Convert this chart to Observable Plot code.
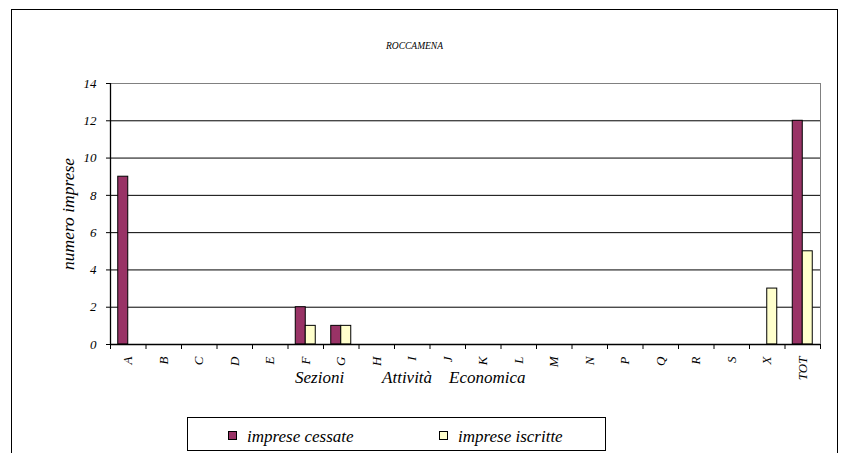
<!DOCTYPE html>
<html><head><meta charset="utf-8">
<script src="https://cdn.jsdelivr.net/npm/d3@7"></script>
<script src="https://cdn.jsdelivr.net/npm/@observablehq/plot@0.6"></script>
<style>
body{margin:0;background:#fff;font-family:"Liberation Serif","DejaVu Serif",serif;font-style:italic;color:#000}
#wrap{position:relative;width:841px;height:453px;overflow:hidden;background:#fff}
#chart{position:absolute;left:0;top:0}
#border{position:absolute;left:11px;top:9px;width:827px;height:470px;border:1.5px solid #000;box-sizing:border-box;pointer-events:none}
.t{position:absolute;white-space:pre;line-height:17px}
#title{left:314.5px;width:200px;text-align:center;top:41px;font-size:9.5px;line-height:10px}
#xlabel{left:295px;top:369px;font-size:17px}
#legend{position:absolute;left:187px;top:417px;width:419px;height:34px;border:1px solid #000;box-sizing:border-box}
.sw{position:absolute;width:9px;height:9px;border:1px solid #000;box-sizing:border-box}
.lt{font-size:17px}
</style>
</head><body>
<div id="wrap">
  <div id="chart"></div>
  <div id="border"></div>
  <div id="title" class="t">ROCCAMENA</div>
  <div id="xlabel" class="t">Sezioni         Attività    Economica</div>
  <div id="legend"></div>
  <div class="sw" style="left:228px;top:431px;background:#993366"></div>
  <div class="t lt" style="left:247px;top:428px">imprese cessate</div>
  <div class="sw" style="left:439px;top:431px;background:#FFFFCC"></div>
  <div class="t lt" style="left:458px;top:428px">imprese iscritte</div>
</div>
<script>
const categories = ["A","B","C","D","E","F","G","H","I","J","K","L","M","N","P","Q","R","S","X","TOT"];
const cessate   = [9,0,0,0,0,2,1,0,0,0,0,0,0,0,0,0,0,0,0,12];
const iscritte  = [0,0,0,0,0,1,1,0,0,0,0,0,0,0,0,0,0,0,3,5];
const yTicks = [0,2,4,6,8,10,12,14];
const seriesNames = ["imprese cessate","imprese iscritte"];
const seriesColors = ["#993366","#FFFFCC"];

const W = 841, H = 400, ML = 110, MR = 21, MT = 83, MB = 56;
const half = (W - ML - MR) / categories.length / 2;
const FONT = '"Liberation Serif","DejaVu Serif",serif';

const rowsC = categories.map((c,i)=>({cat:c, v:cessate[i]})).filter(d=>d.v>0);
const rowsI = categories.map((c,i)=>({cat:c, v:iscritte[i]})).filter(d=>d.v>0);

const plot = Plot.plot({
  width: W, height: H,
  marginLeft: ML, marginRight: MR, marginTop: MT, marginBottom: MB,
  style: {fontFamily: FONT, fontStyle: "italic", fontSize: "13px", color: "#000", background: "transparent"},
  x: {type: "band", domain: categories, padding: 0, round: false, axis: null},
  y: {domain: [0, 14], axis: null},
  marks: [
    Plot.frame({stroke: "#808080"}),
    Plot.ruleY(yTicks.filter(t => t > 0 && t < 14), {stroke: "#000", strokeWidth: 1}),
    Plot.barY(rowsC, {x: "cat", y: "v", fill: seriesColors[0], stroke: "#000", strokeWidth: 1, insetLeft: half - 10, insetRight: half}),
    Plot.barY(rowsI, {x: "cat", y: "v", fill: seriesColors[1], stroke: "#000", strokeWidth: 1, insetLeft: half, insetRight: half - 10}),
    Plot.ruleY([0], {stroke: "#000", strokeWidth: 1.3}),
    Plot.ruleX([categories[0]], {dx: -half, stroke: "#000", strokeWidth: 1.3}),
    Plot.ruleX(categories, {x: d => d, dx: -half, y1: 0, y2: 0, insetBottom: -5, stroke: "#000"}),
    Plot.ruleX([categories[categories.length-1]], {x: d => d, dx: half, y1: 0, y2: 0, insetBottom: -5, stroke: "#000"}),
    Plot.axisY({ticks: yTicks, tickSize: 4, tickPadding: 10, tickFormat: d => d, label: null, fontSize: 13, stroke: "#000"}),
    Plot.text(categories, {x: d => d, frameAnchor: "bottom", dy: 12, dx: 4, rotate: -90, textAnchor: "end", fontSize: 13, fill: "#000"}),
    Plot.text(["numero imprese"], {frameAnchor: "left", dx: -42.5, rotate: -90, textAnchor: "middle", fontSize: 17.5, fill: "#000"})
  ]
});
document.getElementById("chart").appendChild(plot);
</script>
</body></html>
